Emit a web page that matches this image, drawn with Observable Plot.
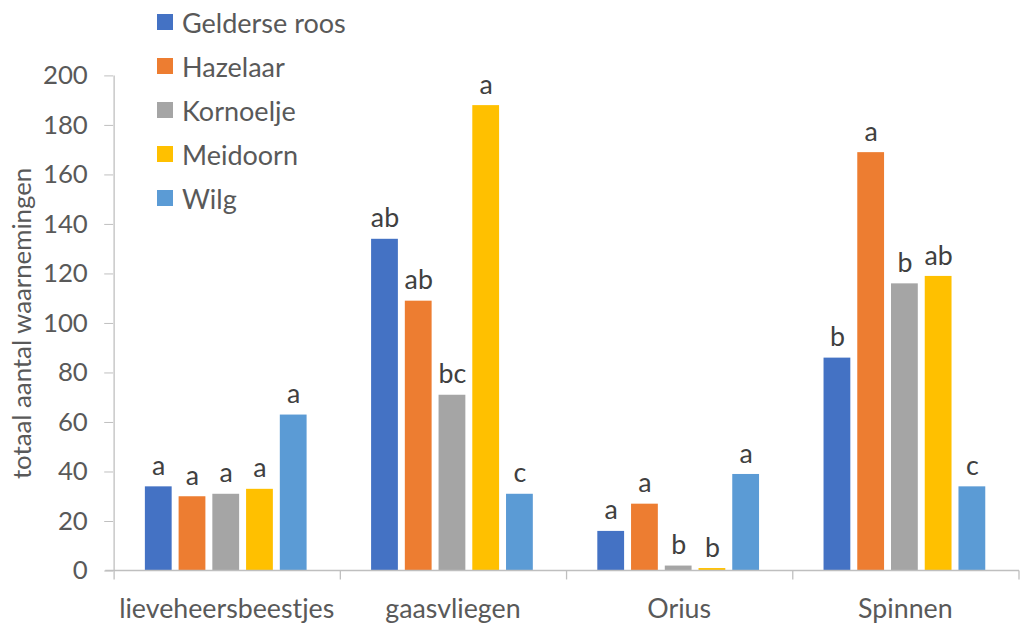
<!DOCTYPE html>
<html><head><meta charset="utf-8">
<script src="https://cdn.jsdelivr.net/npm/d3@7"></script>
<script src="https://cdn.jsdelivr.net/npm/@observablehq/plot@0.6"></script>
<style>
html,body{margin:0;padding:0;background:#fff;overflow:hidden;width:1020px;height:627px}
#wrap{position:relative;width:1020px;height:627px;overflow:hidden}
#legend{position:absolute;left:157px;top:0px;font-family:Lato,sans-serif}
.item{display:flex;align-items:center;height:44px;font-size:27px;color:#595959}
.sw{width:16px;height:16px;margin-right:9px;flex:none}
</style></head><body><div id="wrap"><div id="chart"></div><div id="legend"></div></div>
<script>
const categories = ["lieveheersbeestjes", "gaasvliegen", "Orius", "Spinnen"];
const series = ["Gelderse roos", "Hazelaar", "Kornoelje", "Meidoorn", "Wilg"];
const colors = ["#4472C4", "#ED7D31", "#A5A5A5", "#FFC000", "#5B9BD5"];
const geldersRoos = [34, 134, 16, 86];
const hazelaar = [30, 109, 27, 169];
const kornoelje = [31, 71, 2, 116];
const meidoorn = [33, 188, 1, 119];
const wilg = [63, 31, 39, 34];
const lettersGelderseRoos = ["a", "ab", "a", "b"];
const lettersHazelaar = ["a", "ab", "a", "a"];
const lettersKornoelje = ["a", "bc", "b", "b"];
const lettersMeidoorn = ["a", "a", "b", "ab"];
const lettersWilg = ["a", "c", "a", "c"];
const yTicks = [0, 20, 40, 60, 80, 100, 120, 140, 160, 180, 200];
const yLabel = "totaal aantal waarnemingen";

const values = [geldersRoos, hazelaar, kornoelje, meidoorn, wilg];
const letters = [lettersGelderseRoos, lettersHazelaar, lettersKornoelje, lettersMeidoorn, lettersWilg];
const data = [];
categories.forEach((c, i) => series.forEach((s, j) => data.push({category: c, series: s, value: values[j][i], letter: letters[j][i]})));

const axisColor = "#bfbfbf";
const textColor = "#595959";

let axisDrawn = false;
function axisLines(index, scales, vals, dim) {
  if (axisDrawn) return null;
  axisDrawn = true;
  const {fx, y} = scales;
  const y0 = y(0);
  const step = fx(categories[1]) - fx(categories[0]);
  const left = fx(categories[0]);
  const right = fx(categories[categories.length - 1]) + step;
  const g = d3.create("svg:g").attr("stroke", axisColor).attr("stroke-width", 1.3).attr("fill", "none");
  const bounds = categories.map(c => fx(c)).concat([right]);
  g.append("line").attr("x1", left - 9).attr("x2", right).attr("y1", y0).attr("y2", y0);
  g.append("line").attr("x1", left).attr("x2", left).attr("y1", y(yTicks[yTicks.length - 1])).attr("y2", y0);
  for (const b of bounds) g.append("line").attr("x1", b).attr("x2", b).attr("y1", y0).attr("y2", y0 + 9);
  return g.node();
}

const chart = Plot.plot({
  width: 1028,
  height: 627,
  marginLeft: 113,
  marginRight: 1,
  marginTop: 76,
  marginBottom: 52,
  style: {fontFamily: "Lato, sans-serif", fontSize: "26px", background: "white", overflow: "visible"},
  fx: {domain: categories, padding: 0, label: null},
  x: {domain: series, paddingInner: 0.2, paddingOuter: 0.865, axis: null},
  y: {domain: [0, 200], label: null},
  color: {domain: series, range: colors},
  marks: [
    Plot.barY(data, {fx: "category", x: "series", y: "value", fill: "series"}),
    Plot.text(data, {fx: "category", x: "series", y: "value", text: "letter", lineAnchor: "bottom", dy: -12, fontSize: 27, fill: "#404040"}),
    Plot.axisY({ticks: yTicks, tickSize: 9, tickPadding: 17, stroke: axisColor, color: textColor, fill: textColor, fontSize: 26,
      label: yLabel, labelAnchor: "center", labelArrow: "none", labelOffset: 102}),
    Plot.axisFx({anchor: "bottom", tickSize: 0, tickPadding: 28, color: textColor, fill: textColor, fontSize: 27, label: null}),
    axisLines
  ]
});
document.getElementById("chart").appendChild(chart);

const legend = document.getElementById("legend");
series.forEach((s, i) => {
  const item = document.createElement("div");
  item.className = "item";
  const sw = document.createElement("span");
  sw.className = "sw";
  sw.style.background = colors[i];
  const t = document.createElement("span");
  t.textContent = s;
  item.appendChild(sw); item.appendChild(t);
  legend.appendChild(item);
});
</script></body></html>
